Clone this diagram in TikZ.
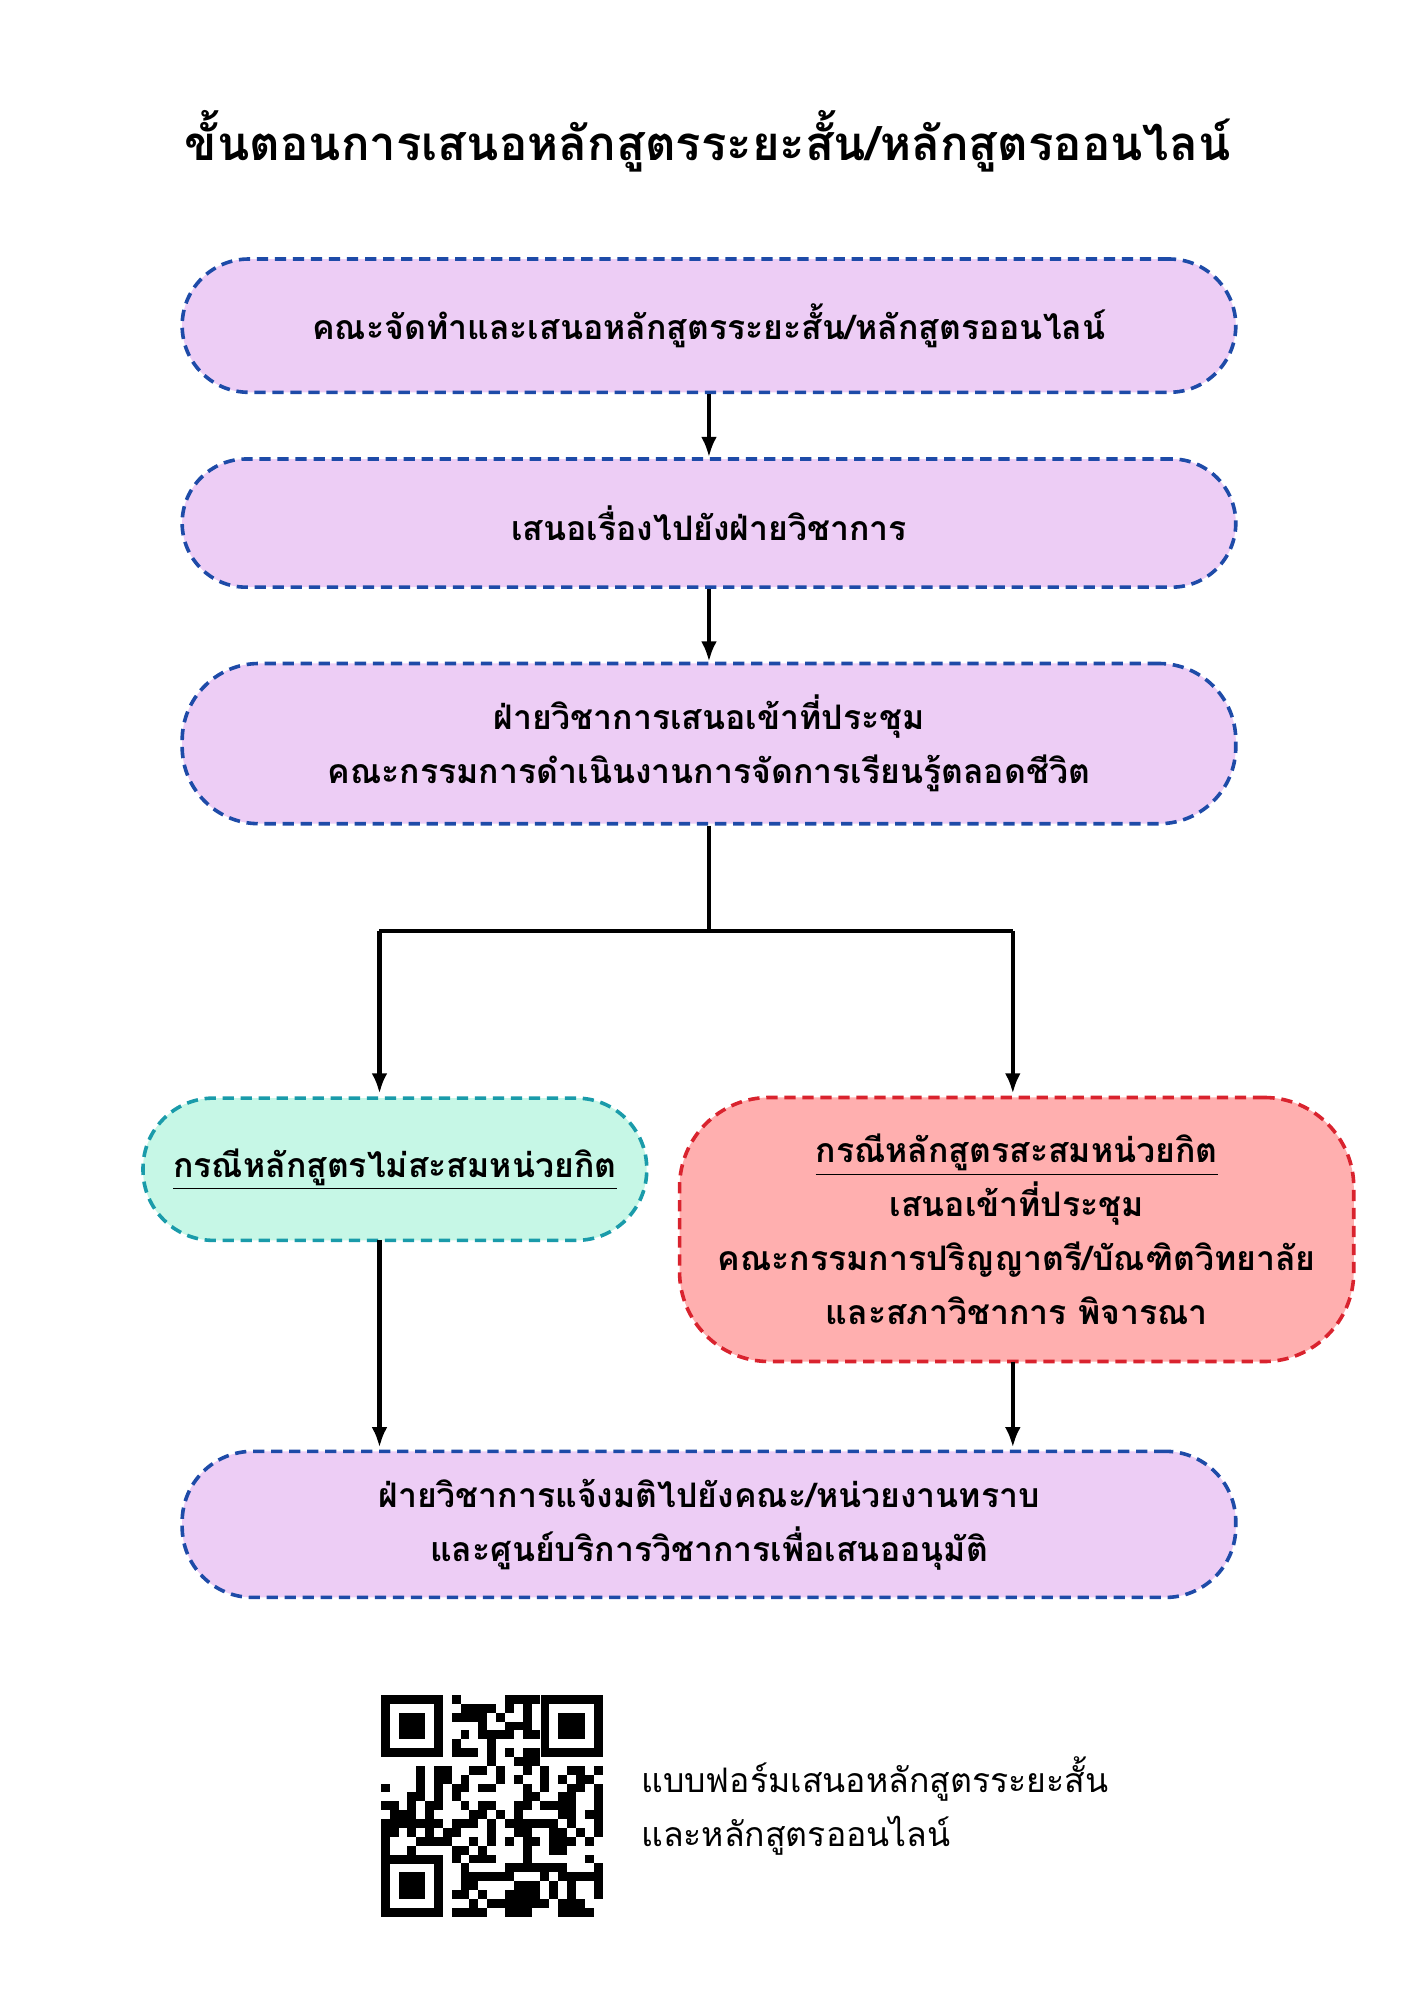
\documentclass[tikz,border=0pt]{standalone}
\usetikzlibrary{arrows.meta}
\usepackage{fontspec}
\setmainfont[Script=Thai]{Loma}
\begin{document}
\begin{tikzpicture}[x=0.02cm,y=-0.02cm,
 box/.style={draw, dashed, line width=1.6pt, dash pattern=on 5pt off 3pt, align=center, font=\bfseries\fontsize{15}{24}\selectfont},
 pur/.style={box, fill=lavbg, draw=bluedash},
 arr/.style={-{Latex[length=9pt,width=7pt]}, line width=2pt},
 ln/.style={line width=2pt}]
\definecolor{lavbg}{HTML}{EDCDF5}
\definecolor{bluedash}{HTML}{1E4BA8}
\definecolor{mintbg}{HTML}{C6F7E6}
\definecolor{tealdash}{HTML}{1A9BAA}
\definecolor{pinkbg}{HTML}{FFAFAF}
\definecolor{reddash}{HTML}{D9232E}
\useasboundingbox (0,0) rectangle (1103,1560);
\node[font=\bfseries\fontsize{21}{26}\selectfont] (title) at (552,110) {ขั้นตอนการเสนอหลักสูตรระยะสั้น/หลักสูตรออนไลน์};
\node[pur, rounded corners=1.04cm, minimum width=16.44cm, minimum height=2.08cm] (b1) at (553,254) {คณะจัดทำและเสนอหลักสูตรระยะสั้น/หลักสูตรออนไลน์};
\node[pur, rounded corners=1cm, minimum width=16.44cm, minimum height=2.0cm] (b2) at (553,408) {เสนอเรื่องไปยังฝ่ายวิชาการ};
\node[pur, rounded corners=1.2cm, minimum width=16.44cm, minimum height=2.5cm] (b3) at (553,580) {ฝ่ายวิชาการเสนอเข้าที่ประชุม\\คณะกรรมการดำเนินงานการจัดการเรียนรู้ตลอดชีวิต};
\node[box, fill=mintbg, draw=tealdash, rounded corners=1.1cm, minimum width=7.86cm, minimum height=2.22cm] (b4) at (308,912) {\underline{กรณีหลักสูตรไม่สะสมหน่วยกิต}};
\node[box, fill=pinkbg, draw=reddash, rounded corners=1.4cm, minimum width=10.52cm, minimum height=4.12cm] (b5) at (793,959) {\underline{กรณีหลักสูตรสะสมหน่วยกิต}\\เสนอเข้าที่ประชุม\\คณะกรรมการปริญญาตรี/บัณฑิตวิทยาลัย\\และสภาวิชาการ พิจารณา};
\node[pur, rounded corners=1.1cm, minimum width=16.44cm, minimum height=2.28cm] (b6) at (553,1189) {ฝ่ายวิชาการแจ้งมติไปยังคณะ/หน่วยงานทราบ\\และศูนย์บริการวิชาการเพื่อเสนออนุมัติ};
\draw[arr] (b1.south) -- (b2.north);
\draw[arr] (b2.south) -- (b3.north);
\coordinate (j) at (553,726);
\coordinate (jl) at (296,726);
\coordinate (jr) at (790,726);
\draw[ln] (b3.south) -- (j);
\draw[ln] (jl) -- (jr);
\draw[arr] (jl) -- (296,853);
\draw[arr] (jr) -- (790,853);
\draw[arr] (296,967) -- (296,1129);
\draw[arr] (790,1062) -- (790,1129);
% QR code
\begin{scope}[shift={(297,1322)}]
\pgfmathsetseed{7}
\foreach \i in {0,...,24}{\foreach \k in {0,...,24}{
  \pgfmathsetmacro\r{rnd}
  \ifdim\r pt<0.5pt \fill (\i*6.92,\k*6.92) rectangle ++(6.92,6.92);\fi}}
\foreach \px/\py in {0/0,124.6/0,0/124.6}{
  \fill[white] (\px-0.1,\py-0.1) rectangle ++(55.5,55.5);
  \fill (\px,\py) rectangle ++(48.4,48.4);
  \fill[white] (\px+6.92,\py+6.92) rectangle ++(34.6,34.6);
  \fill (\px+13.84,\py+13.84) rectangle ++(20.76,20.76);
}
\end{scope}
\node[anchor=west, align=left, font=\fontsize{15}{24}\selectfont] (qrtext) at (494,1409) {แบบฟอร์มเสนอหลักสูตรระยะสั้น\\และหลักสูตรออนไลน์};
\end{tikzpicture}
\end{document}
